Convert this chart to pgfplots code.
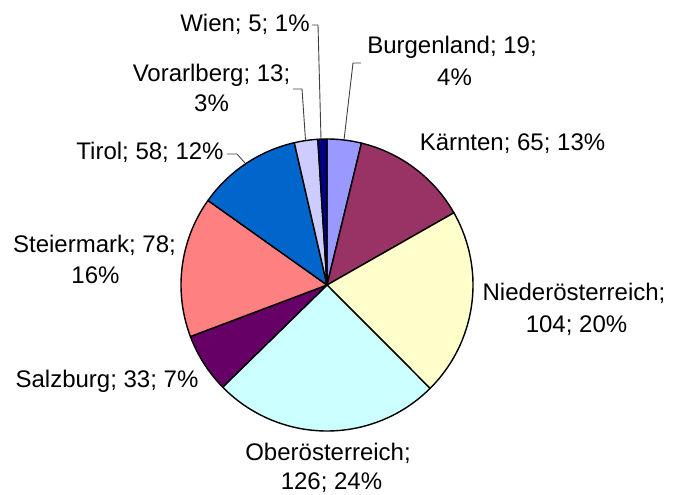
\documentclass[border=0pt]{standalone}
\usepackage{pgfplots}
\pgfplotsset{compat=1.18}
\usepackage{fontspec}
\setmainfont{Liberation Sans}
\definecolor{cBurg}{HTML}{9999FF}
\definecolor{cKaer}{HTML}{993366}
\definecolor{cNied}{HTML}{FFFFCC}
\definecolor{cOber}{HTML}{CCFFFF}
\definecolor{cSalz}{HTML}{660066}
\definecolor{cStei}{HTML}{FF8080}
\definecolor{cTiro}{HTML}{0066CC}
\definecolor{cVora}{HTML}{CCCCFF}
\definecolor{cWien}{HTML}{000080}
\begin{document}
\fontsize{12}{15}\selectfont
\begin{tikzpicture}
\begin{axis}[
  x=0.5pt, y=0.5pt,
  xmin=0, xmax=673, ymin=0, ymax=494,
  hide axis, clip=false,
  every node/.style={inner sep=0pt, font=\fontsize{12}{15}\selectfont},
]
\coordinate (sw) at (0,0);
\coordinate (ne) at (673,494);
\def\total{501}
\def\a{0}
\pgfplotsforeachungrouped \v/\c in {19/cBurg,65/cKaer,104/cNied,126/cOber,33/cSalz,78/cStei,58/cTiro,13/cVora,5/cWien}{%
  \pgfmathsetmacro\b{\a+\v/\total*360}%
  \edef\cmd{\noexpand\addplot[fill=\c, draw=black, line width=0.7pt, line join=round, domain=\a:\b, samples=60] ({327+146*sin(x)},{209+146*cos(x)}) -- (327,209) -- cycle;}%
  \cmd
  \global\let\a\b
}
% leader lines
\addplot[black!75, line width=0.45pt] coordinates {(312,469) (318,469) (321,355)};
\addplot[black!75, line width=0.45pt] coordinates {(293,405) (302,405) (305.5,354)};
\addplot[black!75, line width=0.45pt] coordinates {(227,340) (237,340) (245,331)};
\addplot[black!75, line width=0.45pt] coordinates {(361,431) (353,431) (344,354)};
% labels
\node[anchor=base] at (245,462) {Wien; 5; 1\%};
\node[anchor=base] at (211.5,413) {Vorarlberg; 13;};
\node[anchor=base] at (211.5,383) {3\%};
\node[anchor=base] at (150,335) {Tirol; 58; 12\%};
\node[anchor=base] at (452,441) {Burgenland; 19;};
\node[anchor=base] at (454.5,409) {4\%};
\node[anchor=base] at (512.5,344) {Kärnten; 65; 13\%};
\node[anchor=base] at (94.5,242) {Steiermark; 78;};
\node[anchor=base] at (95.5,211) {16\%};
\node[anchor=base] at (574,194) {Niederösterreich;};
\node[anchor=base] at (576.5,162) {104; 20\%};
\node[anchor=base] at (107,107) {Salzburg; 33; 7\%};
\node[anchor=base] at (328,34) {Oberösterreich;};
\node[anchor=base] at (331.5,5) {126; 24\%};
\end{axis}
\pgfresetboundingbox
\useasboundingbox (sw) rectangle (ne);
\end{tikzpicture}
\end{document}
